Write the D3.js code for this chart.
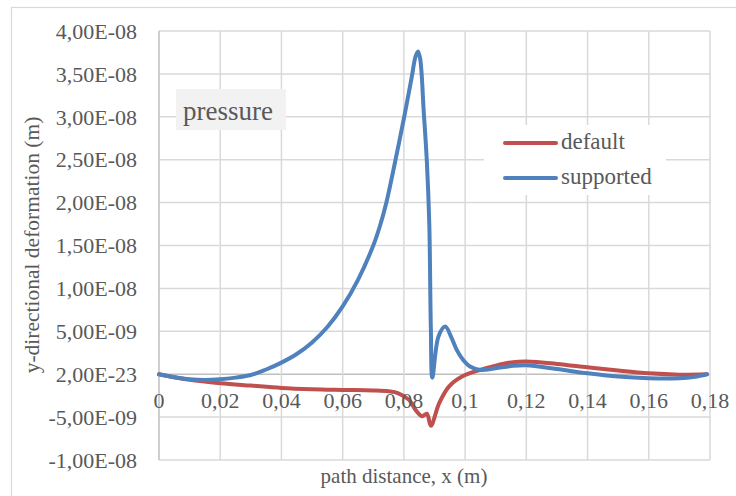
<!DOCTYPE html>
<html>
<head>
<meta charset="utf-8">
<script src="https://cdn.jsdelivr.net/npm/d3@7"></script>
<style>
  body { margin: 0; background: #fff; }
  text { font-family: "Liberation Serif", "Times New Roman", serif; fill: #595959; }
</style>
</head>
<body>
<svg id="chart" width="736" height="496"></svg>
<script>
// values in metres; deformation in units of 1e-9 m
var defaultX = [0, 0.005, 0.01, 0.02, 0.03, 0.04, 0.05, 0.06, 0.07, 0.075, 0.078, 0.0817, 0.0838, 0.086, 0.0875, 0.0888, 0.0915, 0.0947, 0.099, 0.1049, 0.11, 0.1157, 0.12, 0.13, 0.14, 0.15, 0.16, 0.17, 0.179];
var defaultY = [0, -0.35, -0.66, -1.05, -1.33, -1.6, -1.75, -1.83, -1.9, -2.0, -2.2, -3.0, -4.16, -4.9, -4.6, -6.0, -3.4, -1.45, -0.28, 0.5, 1.0, 1.4, 1.47, 1.2, 0.8, 0.42, 0.1, -0.05, 0];

var supportedX = [0, 0.005, 0.01, 0.015, 0.02, 0.025, 0.03, 0.035, 0.04, 0.045, 0.05, 0.055, 0.06, 0.065, 0.07, 0.0722, 0.0742, 0.0771, 0.08, 0.0825, 0.0838, 0.0846, 0.0853, 0.0865, 0.0875, 0.0883, 0.0888, 0.0893, 0.0913, 0.0935, 0.0955, 0.0973, 0.0995, 0.1016, 0.105, 0.11, 0.115, 0.12, 0.13, 0.14, 0.15, 0.16, 0.17, 0.175, 0.179];
var supportedY = [0, -0.35, -0.6, -0.68, -0.6, -0.4, -0.1, 0.55, 1.35, 2.35, 3.7, 5.5, 7.9, 11.0, 15.0, 17.3, 19.9, 24.7, 29.8, 34.5, 37.0, 37.6, 36.8, 30.5, 24.8, 17.5, 5.5, -0.4, 4.4, 5.55, 4.3, 2.8, 1.6, 0.9, 0.5, 0.7, 0.95, 1.05, 0.6, 0.1, -0.28, -0.47, -0.47, -0.3, 0];

var xTicks = [0, 0.02, 0.04, 0.06, 0.08, 0.1, 0.12, 0.14, 0.16, 0.18];
var xTickLabels = ["0", "0,02", "0,04", "0,06", "0,08", "0,1", "0,12", "0,14", "0,16", "0,18"];
var yTicks = [40, 35, 30, 25, 20, 15, 10, 5, 0, -5, -10];
var yTickLabels = ["4,00E-08", "3,50E-08", "3,00E-08", "2,50E-08", "2,00E-08", "1,50E-08", "1,00E-08", "5,00E-09", "2,00E-23", "-5,00E-09", "-1,00E-08"];

var seriesNames = ["default", "supported"];
var seriesColors = ["#C0504D", "#4F81BD"];

var svg = d3.select("#chart");

const plot = { left: 159, right: 710, top: 31, bottom: 460 };

var xScale = d3.scaleLinear().domain([0, 0.18]).range([plot.left, plot.right]);
var yScale = d3.scaleLinear().domain([-10, 40]).range([plot.bottom, plot.top]);

// chart area border
svg.append("rect")
  .attr("x", 11.5).attr("y", 7.5)
  .attr("width", 800).attr("height", 600)
  .attr("fill", "#fff")
  .attr("stroke", "#d9d9d9").attr("stroke-width", 1.2);

// gridlines
svg.append("g")
  .selectAll("line")
  .data(yTicks)
  .enter()
  .append("line")
  .attr("x1", plot.left).attr("x2", plot.right)
  .attr("y1", function(d) { return yScale(d); })
  .attr("y2", function(d) { return yScale(d); })
  .attr("stroke", function(d) { return d == 0 ? "#bfbfbf" : "#d9d9d9"; })
  .attr("stroke-width", 1.5);

svg.append("g")
  .selectAll("line")
  .data(xTicks)
  .enter()
  .append("line")
  .attr("x1", function(d) { return xScale(d); })
  .attr("x2", function(d) { return xScale(d); })
  .attr("y1", plot.top).attr("y2", plot.bottom)
  .attr("stroke", function(d) { return d == 0 ? "#bfbfbf" : "#d9d9d9"; })
  .attr("stroke-width", 1.5);

// y tick labels
svg.append("g")
  .selectAll("text")
  .data(yTicks)
  .enter()
  .append("text")
  .attr("x", 137)
  .attr("y", function(d) { return yScale(d); })
  .attr("dy", "0.35em")
  .style("text-anchor", "end")
  .style("font-size", "22px")
  .text(function(d, i) { return yTickLabels[i]; });

// "pressure" box
svg.append("rect")
  .attr("x", 176).attr("y", 89)
  .attr("width", 110).attr("height", 41)
  .attr("fill", "#f2f2f2");
svg.append("text")
  .attr("x", 183).attr("y", 120)
  .style("font-size", "27px")
  .text("pressure");

// lines
var line = d3.line()
  .x(function(d) { return xScale(d[0]); })
  .y(function(d) { return yScale(d[1]); })
  .curve(d3.curveCatmullRom.alpha(0.5));

var series = [
  d3.zip(defaultX, defaultY),
  d3.zip(supportedX, supportedY)
];

svg.append("g")
  .selectAll("path")
  .data(series)
  .enter()
  .append("path")
  .attr("d", line)
  .attr("fill", "none")
  .attr("stroke", function(d, i) { return seriesColors[i]; })
  .attr("stroke-width", 4)
  .attr("stroke-linejoin", "round")
  .attr("stroke-linecap", "round");

// x tick labels (axis crosses at 0)
svg.append("g")
  .selectAll("text")
  .data(xTicks)
  .enter()
  .append("text")
  .attr("x", function(d) { return xScale(d); })
  .attr("y", yScale(0) + 34)
  .style("text-anchor", "middle")
  .style("font-size", "22px")
  .text(function(d, i) { return xTickLabels[i]; });

// legend
var legend = svg.append("g");
legend.append("rect")
  .attr("x", 484).attr("y", 125)
  .attr("width", 182).attr("height", 70)
  .attr("fill", "#fff");
seriesNames.forEach(function(name, i) {
  var ly = 143 + i * 35;
  legend.append("line")
    .attr("x1", 505).attr("x2", 556)
    .attr("y1", ly).attr("y2", ly)
    .attr("stroke", seriesColors[i])
    .attr("stroke-width", 4)
    .attr("stroke-linecap", "round");
  legend.append("text")
    .attr("x", 561).attr("y", ly + 6)
    .style("font-size", "23px")
    .text(name);
});

// axis titles
svg.append("text")
  .attr("x", 404).attr("y", 483)
  .style("text-anchor", "middle")
  .style("font-size", "21px")
  .text("path distance, x (m)");

svg.append("text")
  .attr("transform", "translate(39,245) rotate(-90)")
  .style("text-anchor", "middle")
  .style("font-size", "21.5px")
  .text("y-directional deformation (m)");
</script>
</body>
</html>
